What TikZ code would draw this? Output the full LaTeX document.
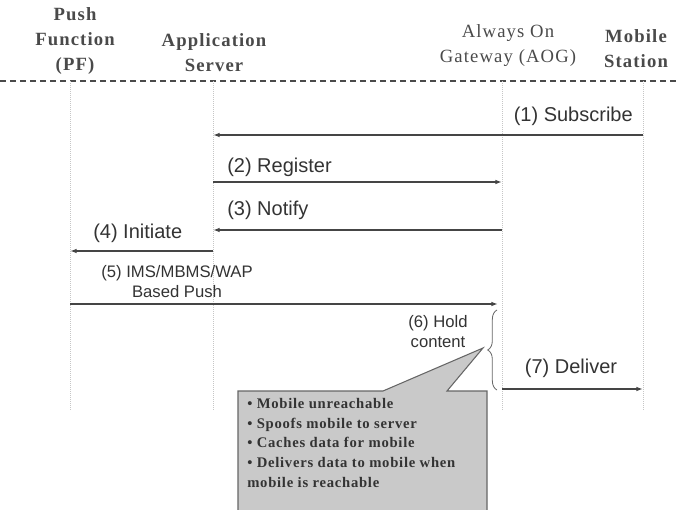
\documentclass[tikz,border=0pt]{standalone}
\usepackage{fontspec}
\setmainfont{Liberation Serif}
\setsansfont{Liberation Sans}
\newfontfamily\hdrfont[LetterSpace=6]{Liberation Serif}
\newfontfamily\notefont[LetterSpace=5]{Liberation Serif}
\usetikzlibrary{arrows.meta,decorations.pathreplacing}

\definecolor{txtgray}{HTML}{333333}
\definecolor{hdrgray}{HTML}{4A4A4A}
\definecolor{linegray}{HTML}{454545}
\definecolor{boxgray}{HTML}{C9C9C9}

\begin{document}
\begin{tikzpicture}[x=0.75pt, y=-0.75pt,
    hdr/.style={font=\hdrfont\fontsize{14}{18.75}\selectfont, align=center, text=hdrgray, inner sep=0pt},
    hdrbold/.style={hdr, font=\hdrfont\bfseries\fontsize{14}{18.75}\selectfont},
    lbl/.style={font=\sffamily\fontsize{15}{18}\selectfont, text=txtgray, inner sep=0pt},
    smlbl/.style={font=\sffamily\fontsize{12.5}{15}\selectfont, text=txtgray, inner sep=0pt, align=center},
    lifeline/.style={gray!45, line width=0.5pt, densely dotted},
    msg/.style={-{Latex[length=5pt,width=3.5pt]}, linegray, line width=1.1pt},
    callout/.style={draw=black!60, fill=boxgray, line width=0.8pt}
]
\useasboundingbox (0,0) rectangle (678,510);
\clip (0,0) rectangle (678,510);

% Kopfzeile
\node[hdrbold] (pf) at (75,41) {Push\\Function\\(PF)};
\node[hdrbold] (as) at (214,53) {Application\\Server};
\node[hdr] (aog) at (508,46) {Always On\\Gateway (AOG)};
\node[hdrbold] (ms) at (636,49) {Mobile\\Station};
\draw[hdrgray, line width=1.1pt, dash pattern=on 4.5pt off 3pt] (0,81) -- (678,81);

% Lebenslinien
\coordinate (pfL) at (70,81);   \coordinate (pfB) at (70,410);
\coordinate (asL) at (213,81);  \coordinate (asB) at (213,410);
\coordinate (aogL) at (502,81); \coordinate (aogB) at (502,410);
\coordinate (msL) at (643,81);  \coordinate (msB) at (643,410);
\draw[lifeline] (pfL) -- (pfB);
\draw[lifeline] (asL) -- (asB);
\draw[lifeline] (aogL) -- (aogB);
\draw[lifeline] (msL) -- (msB);

% Nachrichten
\draw[msg] (msL |- 0,135) -- (asL |- 0,135);
\node[lbl, anchor=east] (sub) at (633,116) {(1) Subscribe};
\draw[msg] (asL |- 0,182) -- (aogL |- 0,182);
\node[lbl, anchor=west] (reg) at (227,167) {(2) Register};
\draw[msg] (aogL |- 0,230) -- (asL |- 0,230);
\node[lbl, anchor=west] (ntf) at (227,210) {(3) Notify};
\draw[msg] (asL |- 0,251) -- (pfL |- 0,251);
\node[lbl, anchor=west] (ini) at (93,233) {(4) Initiate};
\draw[msg, shorten >=3pt] (pfL |- 0,304) -- (aogL |- 0,304);
\node[smlbl] (push) at (177,282) {(5) IMS/MBMS/WAP\\Based Push};
\draw[msg] (aogL |- 0,389) -- (msL |- 0,389);
\node[lbl] (dlv) at (571,368) {(7) Deliver};

% Hold content
\node[smlbl] (hold) at (438,332) {(6) Hold\\content};
\draw[black!60, line width=0.6pt, decorate, decoration={brace, amplitude=7pt}]
    (497,390) -- (497,310);
\coordinate (holdtip) at (483,348);

% Callout
\draw[callout] (238,515) -- (238,391) -- (383,391) -- (holdtip) -- (447,391)
    -- (487,391) -- (487,515) -- cycle;
\node[anchor=north west, inner sep=0pt, align=left, text=txtgray,
      font=\notefont\bfseries\fontsize{11}{14.8}\selectfont] (notes) at (247,398)
    {• Mobile unreachable\\ • Spoofs mobile to server\\ • Caches data for mobile\\
     • Delivers data to mobile when\\ mobile is reachable};

\end{tikzpicture}
\end{document}
